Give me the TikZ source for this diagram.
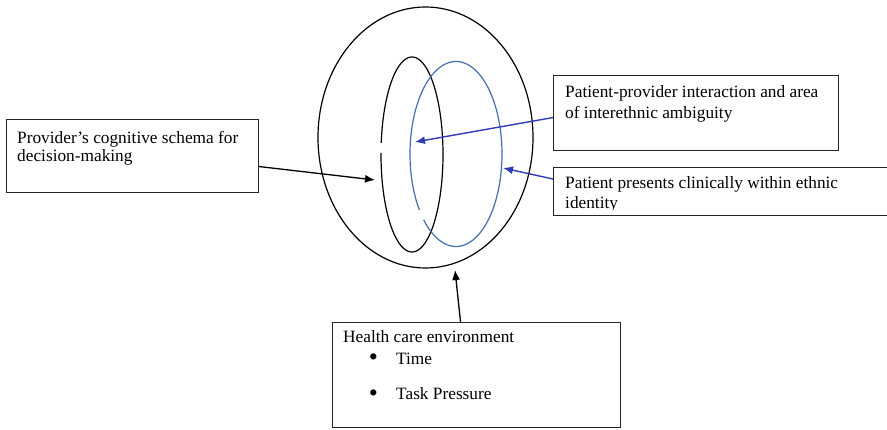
\documentclass[tikz,border=0pt]{standalone}
\usepackage{fontspec}
\setmainfont{Liberation Serif}
\usetikzlibrary{arrows.meta}
\definecolor{ellblue}{RGB}{70,110,175}
\definecolor{arrblue}{RGB}{50,60,185}
\tikzset{
  box/.style={draw=black!85, line width=1.1pt, anchor=north west, inner sep=0pt, minimum width=#1},
  txt/.style={anchor=base west, inner sep=0pt, font=\fontsize{17.3}{18.3}\selectfont},
  bul/.style={anchor=center, inner sep=0pt, font=\fontsize{17.3}{18.3}\selectfont},
  ring/.style={line width=1.2pt},
  blackarrow/.style={draw=black, line width=1.3pt, -{Latex[length=10pt,width=8pt]}},
  bluearrow/.style={draw=arrblue, line width=1.4pt, -{Latex[length=10pt,width=8pt]}},
}
\begin{document}
\begin{tikzpicture}[x=1pt,y=-1pt]
\clip (0,0) rectangle (887,430);
\fill[white] (0,0) rectangle (887,430);

% rings
\draw[ring, black] (425.5,137.5) ellipse [x radius=107.5pt, y radius=130.5pt];
\draw[ring, black, domain=186.8:540.9, samples=200, smooth] plot ({412+31*cos(\x)},{154.5+97.5*sin(\x)});
\draw[ring, ellblue, domain=142.7:494.5, samples=200, smooth] plot ({456+46*cos(\x)},{154+92.5*sin(\x)});

% boxes
\node[box=252pt, minimum height=73pt] (prov) at (6,119) {};
\node[box=285pt, minimum height=75pt] (intr) at (553,75) {};
\node[box=360pt, minimum height=48pt] (pres) at (553,167) {};
\node[box=288pt, minimum height=105pt] (env) at (332,322) {};

% texts
\node[txt] (provtxt) at (17,143.5) {\parbox[t]{240pt}{\baselineskip=18.3pt\raggedright Provider’s cognitive schema for\\decision-making}};
\node[txt] (intrtxt) at (565,97.5) {\parbox[t]{270pt}{\baselineskip=21pt\raggedright Patient-provider interaction and area\\of interethnic ambiguity}};
\begin{scope}
\clip (553,167) rectangle (887,210);
\node[txt] (prestxt) at (565,188.5) {\parbox[t]{320pt}{\baselineskip=20.5pt\raggedright Patient presents clinically within ethnic\\identity}};
\end{scope}
\node[txt] (envtxt) at (343,342.8) {Health care environment};
\node[bul] (b1) at (373.5,360) {\scalebox{1.5}{\textbullet}};
\node[txt] (t1) at (396,364.3) {Time};
\node[bul] (b2) at (373.5,395.7) {\scalebox{1.5}{\textbullet}};
\node[txt] (t2) at (396,400) {Task Pressure};

% arrow tips
\coordinate (tipprov) at (375,180);
\coordinate (tipintr) at (415,142);
\coordinate (tippres) at (503,168);
\coordinate (tipenv) at (455,270);

% connectors
\draw[blackarrow] ([yshift=-10.5pt]prov.east) -- (tipprov);
\draw[bluearrow] ([yshift=-4.5pt]intr.west) -- (tipintr);
\draw[bluearrow] ([yshift=12.5pt]pres.west) -- (tippres);
\draw[blackarrow] ([xshift=-16pt]env.north) -- (tipenv);
\end{tikzpicture}
\end{document}
